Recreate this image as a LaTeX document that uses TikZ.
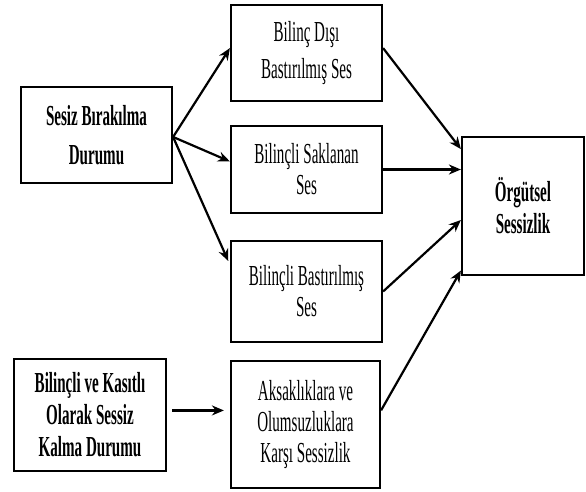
\documentclass[tikz,border=0pt]{standalone}
\usepackage{fontspec}
\setmainfont[FakeStretch=0.52]{Liberation Serif}
\usetikzlibrary{arrows.meta,calc}
\begin{document}
\begin{tikzpicture}[x=1pt,y=-1pt,
  box/.style={draw=black,line width=2.2pt,inner sep=0pt,align=center,fill=white,
     font=\fontsize{29}{31}\selectfont},
  boldbox/.style={box,font=\fontsize{29}{32}\selectfont\bfseries},
  arr/.style={line width=2.2pt,-{Stealth[length=12pt,width=10pt]}}]
\useasboundingbox[fill=white] (0,0) rectangle (586,491);
\node[boldbox,minimum width=151pt,minimum height=96pt,font=\fontsize{29}{39}\selectfont\bfseries] (A) at (96.5,135) {Sesiz Bırakılma\\Durumu};
\node[box,minimum width=151pt,minimum height=96pt,font=\fontsize{29}{37}\selectfont] (B1) at (306.5,53) {Bilinç Dışı\\Bastırılmış Ses};
\node[box,minimum width=151pt,minimum height=87pt] (B2) at (306.5,169.5) {Bilinçli Saklanan\\Ses};
\node[box,minimum width=151pt,minimum height=101pt] (B3) at (306.5,291.5) {Bilinçli Bastırılmış\\Ses};
\node[box,minimum width=149pt,minimum height=127pt] (B4) at (305.5,424.5) {Aksaklıklara ve\\Olumsuzluklara\\Karşı Sessizlik};
\node[boldbox,minimum width=152pt,minimum height=112pt] (C) at (90,415) {Bilinçli ve Kasıtlı\\Olarak Sessiz\\Kalma Durumu};
\node[boldbox,minimum width=122pt,minimum height=138pt] (D) at (523,206) {Örgütsel\\Sessizlik};
\coordinate (Ae) at ($(A.north east)!0.52!(A.south east)$);
\draw[arr] (Ae) -- ($(B1.north west)!0.45!(B1.south west)$);
\draw[arr] (Ae) -- ($(B2.north west)!0.41!(B2.south west)$);
\draw[arr,shorten >=4pt] (Ae) -- ($(B3.north west)!0.24!(B3.south west)$);
\draw[arr] ($(B1.north east)!0.45!(B1.south east)$) -- ($(D.north west)!0.094!(D.south west)$);
\draw[arr] (B2.east) -- (B2.east -| D.west);
\draw[arr] (B3.east) -- ($(D.north west)!0.6!(D.south west)$);
\draw[arr] ($(B4.north east)!0.39!(B4.south east)$) -- ($(D.north west)!0.96!(D.south west)$);
\coordinate (Ce) at ($(C.north east)!0.46!(C.south east)$);
\draw[arr,shorten <=5pt,shorten >=6pt] (Ce) -- (Ce -| B4.west);
\end{tikzpicture}
\end{document}
